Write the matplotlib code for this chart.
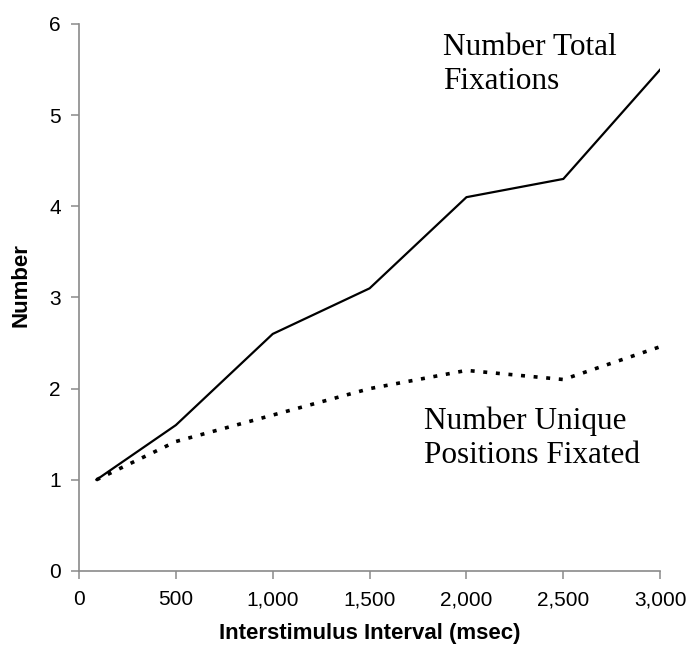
import matplotlib
matplotlib.use('Agg')
import matplotlib.pyplot as plt
from matplotlib.ticker import FuncFormatter

# data
isi = [90, 500, 1000, 1500, 2000, 2500, 3000]
total_fix = [1.0, 1.6, 2.6, 3.1, 4.1, 4.3, 5.5]
unique_pos = [1.0, 1.42, 1.71, 2.0, 2.2, 2.1, 2.46]
xticks = [0, 500, 1000, 1500, 2000, 2500, 3000]
yticks = [0, 1, 2, 3, 4, 5, 6]

plt.rcParams['font.family'] = ['Liberation Sans', 'DejaVu Sans']

fig = plt.figure(figsize=(6.87, 6.47), dpi=100)
ax = fig.add_axes([0.115, 0.1175, 0.846, 0.8455])

ax.plot(isi, total_fix, color='black', lw=1.6, solid_joinstyle='miter')
ax.plot(isi, unique_pos, color='black', lw=2.6, linestyle=(0, (1.1, 2.4)),
        dash_capstyle='butt')

ax.set_xlim(0, 3000)
ax.set_ylim(0, 6)
ax.set_xticks(xticks)
ax.set_yticks(yticks)
ax.xaxis.set_major_formatter(FuncFormatter(lambda v, p: '{:,}'.format(int(v))))

for s in ['top', 'right']:
    ax.spines[s].set_visible(False)
for s in ['left', 'bottom']:
    ax.spines[s].set_color('#8a8a8a')
    ax.spines[s].set_linewidth(1.2)
ax.tick_params(direction='out', length=6, width=1.1, color='#8a8a8a',
               labelsize=15)
ax.tick_params(axis='y', pad=7)
ax.tick_params(axis='x', pad=8)

ax.set_xlabel('Interstimulus Interval (msec)', fontsize=16, fontweight='bold')
ax.set_ylabel('Number', fontsize=16, fontweight='bold')
ax.xaxis.set_label_coords(0.5, -0.095)
ax.yaxis.set_label_coords(-0.082, 0.523)

ax.text(1880, 5.9, 'Number Total\nFixations', family='Liberation Serif',
        fontsize=22.5, va='top', ha='left', linespacing=1.22)
ax.text(1783, 1.8, 'Number Unique\nPositions Fixated', family='Liberation Serif',
        fontsize=22.5, va='top', ha='left', linespacing=1.22)

fig.savefig('out.png', dpi=100)
